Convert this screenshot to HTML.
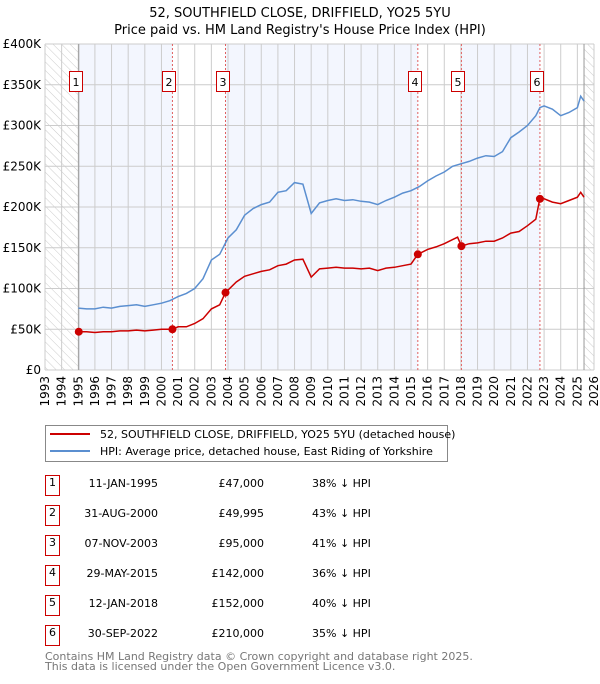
<!DOCTYPE html>
<html><head><meta charset="utf-8"><style>
body{margin:0;background:#fff;width:600px;height:680px;overflow:hidden;font-family:"DejaVu Sans","Liberation Sans",sans-serif}
svg text{font-family:"DejaVu Sans","Liberation Sans",sans-serif}
</style></head><body>
<svg id="chart" width="600" height="680" xmlns="http://www.w3.org/2000/svg">
<defs><pattern id="hatch" width="6" height="6" patternUnits="userSpaceOnUse" patternTransform="rotate(-45)"><line x1="0" y1="0" x2="0" y2="6" stroke="#ccc" stroke-width="1"/></pattern></defs>
<text x="300" y="17" text-anchor="middle" font-size="13">52, SOUTHFIELD CLOSE, DRIFFIELD, YO25 5YU</text>
<text x="300" y="34" text-anchor="middle" font-size="13">Price paid vs. HM Land Registry's House Price Index (HPI)</text>
<g id="plot"></g>
<g>
<rect x="45.5" y="425.5" width="402" height="36" fill="#fff" stroke="#888"/>
<line x1="50" y1="434" x2="90" y2="434" stroke="#cc0000" stroke-width="2"/>
<text x="100" y="438" font-size="11">52, SOUTHFIELD CLOSE, DRIFFIELD, YO25 5YU (detached house)</text>
<line x1="50" y1="451" x2="90" y2="451" stroke="#5b8fd0" stroke-width="2"/>
<text x="100" y="455" font-size="11">HPI: Average price, detached house, East Riding of Yorkshire</text>
</g>
<g id="table"></g>
<text x="45" y="660" font-size="11" fill="#777">Contains HM Land Registry data © Crown copyright and database right 2025.</text>
<text x="45" y="670" font-size="11" fill="#777">This data is licensed under the Open Government Licence v3.0.</text>
</svg>
<script>
const hpiYears=[1995,1995.5,1996,1996.5,1997,1997.5,1998,1998.5,1999,1999.5,2000,2000.5,2001,2001.5,2002,2002.5,2003,2003.5,2004,2004.5,2005,2005.5,2006,2006.5,2007,2007.5,2008,2008.5,2009,2009.5,2010,2010.5,2011,2011.5,2012,2012.5,2013,2013.5,2014,2014.5,2015,2015.5,2016,2016.5,2017,2017.5,2018,2018.5,2019,2019.5,2020,2020.5,2021,2021.5,2022,2022.5,2022.75,2023,2023.5,2024,2024.5,2025,2025.2,2025.4];
const hpiValues=[76,75,75,77,76,78,79,80,78,80,82,85,90,94,100,112,135,142,162,172,190,198,203,206,218,220,230,228,192,205,208,210,208,209,207,206,203,208,212,217,220,225,232,238,243,250,253,256,260,263,262,268,285,292,300,312,322,324,320,312,316,322,336,330];
const redYears=[1995.03,1995.5,1996,1996.5,1997,1997.5,1998,1998.5,1999,1999.5,2000,2000.66,2001,2001.5,2002,2002.5,2003,2003.5,2003.85,2004.5,2005,2005.5,2006,2006.5,2007,2007.5,2008,2008.5,2009,2009.5,2010,2010.5,2011,2011.5,2012,2012.5,2013,2013.5,2014,2014.5,2015,2015.41,2016,2016.5,2017,2017.5,2017.8,2018.03,2018.5,2019,2019.5,2020,2020.5,2021,2021.5,2022,2022.5,2022.74,2023,2023.5,2024,2024.5,2025,2025.2,2025.4];
const redValues=[47,47,46,47,47,48,48,49,48,49,50,50,53,53,57,63,75,80,95,108,115,118,121,123,128,130,135,136,114,124,125,126,125,125,124,125,122,125,126,128,130,142,148,151,155,160,163,152,155,156,158,158,162,168,170,177,185,210,210,206,204,208,212,218,212];
const saleLabels=["1","2","3","4","5","6"];
const saleYears=[1995.03,2000.66,2003.85,2015.41,2018.03,2022.75];
const saleDates=["11-JAN-1995","31-AUG-2000","07-NOV-2003","29-MAY-2015","12-JAN-2018","30-SEP-2022"];
const salePrices=[47000,49995,95000,142000,152000,210000];
const salePct=["38% ↓ HPI","43% ↓ HPI","41% ↓ HPI","36% ↓ HPI","40% ↓ HPI","35% ↓ HPI"];
const yTicks=[0,50,100,150,200,250,300,350,400];
const yTickLabels=["£0","£50K","£100K","£150K","£200K","£250K","£300K","£350K","£400K"];
const xStart=1993,xEnd=2026,dataEnd=2025.4;
const X0=45,X1=594,Y0=370,Y1=44;
const sx=v=>X0+(v-xStart)/(xEnd-xStart)*(X1-X0);
const sy=v=>Y0-v/400*(Y0-Y1);
const NS="http://www.w3.org/2000/svg";
const plot=document.getElementById('plot');
function mk(tag,attrs,parent){const e=document.createElementNS(NS,tag);for(const k in attrs)e.setAttribute(k,attrs[k]);(parent||plot).appendChild(e);return e;}
const bounds=[saleYears[0]].concat(saleYears.slice(1)).concat([dataEnd]);
for(let i=0;i<bounds.length-1;i++){
  if(i%2===0){const r=mk('rect',{x:sx(bounds[i]),y:Y1,width:sx(bounds[i+1])-sx(bounds[i]),height:Y0-Y1,fill:'#f3f6fe'});
  
  }
}
let h=mk('rect',{x:X0,y:Y1,width:sx(saleYears[0])-X0,height:Y0-Y1,fill:'url(#hatch)'});


h=mk('rect',{x:sx(dataEnd),y:Y1,width:X1-sx(dataEnd),height:Y0-Y1,fill:'url(#hatch)'});


for(let y=xStart;y<=xEnd;y++){const l=mk('line',{x1:sx(y),x2:sx(y),y1:Y1,y2:Y0,stroke:'#ccc'});


const t=mk('text',{x:0,y:0,'font-size':12,'text-anchor':'end',transform:`translate(${sx(y)+4},${Y0+6}) rotate(-90)`});t.textContent=y;

}
yTicks.forEach((v,i)=>{const l=mk('line',{x1:X0,x2:X1,y1:sy(v),y2:sy(v),stroke:'#ccc'});


const t=mk('text',{x:X0-4,y:sy(v)+4,'font-size':12,'text-anchor':'end'});t.textContent=yTickLabels[i];

});
let b=mk('line',{x1:sx(saleYears[0]),x2:sx(saleYears[0]),y1:Y1,y2:Y0,stroke:'#999'});


b=mk('line',{x1:sx(dataEnd),x2:sx(dataEnd),y1:Y1,y2:Y0,stroke:'#999'});


saleYears.forEach((y,i)=>{if(i>0){const l=mk('line',{x1:sx(y),x2:sx(y),y1:Y1,y2:Y0,stroke:'#e06060','stroke-dasharray':'2,2'});

}});
const pts=(xs,vs)=>xs.map((x,i)=>sx(x).toFixed(1)+','+sy(vs[i]).toFixed(1)).join(' ');
let p=mk('polyline',{points:pts(hpiYears,hpiValues),fill:'none',stroke:'#5b8fd0','stroke-width':1.5});


p=mk('polyline',{points:pts(redYears,redValues),fill:'none',stroke:'#cc0000','stroke-width':1.5});


saleYears.forEach((y,i)=>{
  const c=mk('circle',{cx:sx(y),cy:sy(salePrices[i]/1000),r:4,fill:'#cc0000'});
  
  
  const g=mk('g',{});
  
  
  mk('rect',{x:Math.round(sx(y))-9.5,y:71.5,width:13,height:20,fill:'#fff',stroke:'#cc0000'},g);
  const t=mk('text',{x:Math.round(sx(y))-3,y:86,'font-size':11,'text-anchor':'middle'},g);t.textContent=saleLabels[i];
});
const tb=document.getElementById('table');
saleYears.forEach((y,i)=>{
  const cy=487+i*30;
  const g=mk('g',{},tb);
  
  
  mk('rect',{x:45.5,y:475.5+i*30,width:14,height:20,fill:'#fff',stroke:'#cc0000'},g);
  let t=mk('text',{x:52.5,y:cy-1,'font-size':11,'text-anchor':'middle'},g);t.textContent=saleLabels[i];
  t=mk('text',{x:158,y:cy,'font-size':11,'text-anchor':'end'},g);t.textContent=saleDates[i];
  t=mk('text',{x:264,y:cy,'font-size':11,'text-anchor':'end'},g);t.textContent='£'+salePrices[i].toLocaleString('en-GB');
  t=mk('text',{x:312,y:cy,'font-size':11},g);t.textContent=salePct[i];
});
</script>
</body></html>
